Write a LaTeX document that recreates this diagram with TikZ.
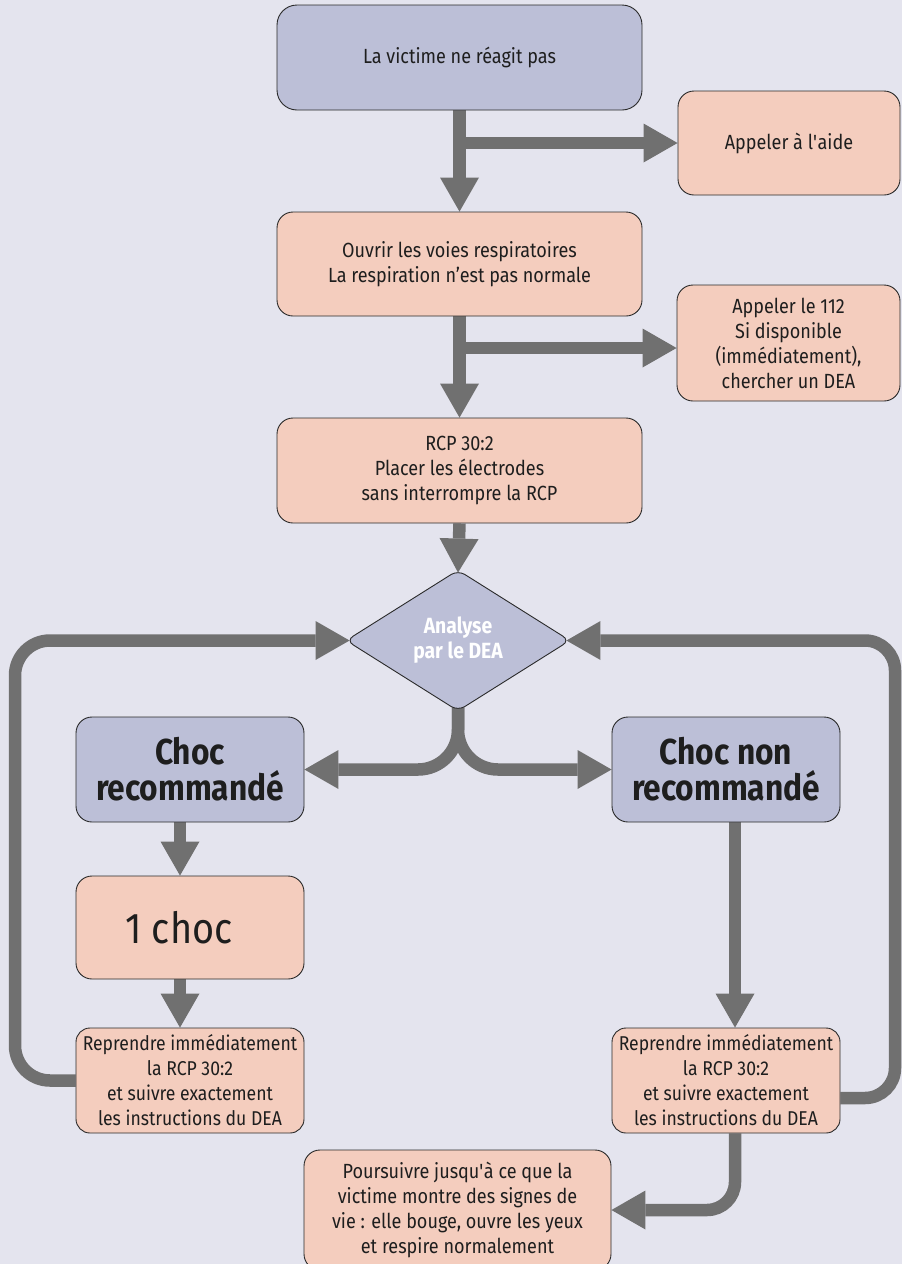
\documentclass[tikz,border=0pt]{standalone}
\usepackage{fontspec}
\setmainfont{Fira Sans}[FakeStretch=0.88]
\usetikzlibrary{arrows.meta,shapes.geometric,backgrounds}
\definecolor{bg}{HTML}{E4E4EE}
\definecolor{bluebox}{HTML}{BCBFD7}
\definecolor{salmon}{HTML}{F4CDBE}
\definecolor{arr}{HTML}{707070}
\definecolor{edge}{HTML}{2A2A2A}
\definecolor{ink}{HTML}{1E1E1E}
\begin{document}
\begin{tikzpicture}[x=1pt,y=-1pt,
  box/.style={draw=edge, line width=0.9pt, rounded corners=16pt, align=center, inner sep=0pt,
    font=\fontsize{20.5}{25}\selectfont, text=ink},
  bluebx/.style={box, fill=bluebox},
  salbx/.style={box, fill=salmon},
  bigbold/.style={font=\bfseries\fontsize{36}{36}\selectfont},
  flow/.style={draw=arr, line width=12.5pt, -{Triangle[width=39pt,length=34pt,line width=0pt]}}
  ]
\useasboundingbox (0,0) rectangle (902,1264);
\clip (0,0) rectangle (902,1264);

\node[bluebx, minimum width=365pt, minimum height=105pt, rounded corners=20pt] (top) at (459.5,57.5) {La victime ne réagit pas};
\node[salbx, minimum width=222pt, minimum height=104pt] (aide) at (789,143) {Appeler à l\textquotesingle aide};
\node[salbx, minimum width=365pt, minimum height=104pt] (b2) at (459.5,264) {Ouvrir les voies respiratoires\\La respiration n’est pas normale};
\node[salbx, minimum width=223pt, minimum height=116pt] (b112) at (788.5,343) {Appeler le 112\\Si disponible\\(immédiatement),\\chercher un DEA};
\node[salbx, minimum width=365pt, minimum height=105pt] (b3) at (459.5,470.5) {RCP 30:2\\Placer les électrodes\\sans interrompre la RCP};
\node[diamond, draw=edge, fill=bluebox, line width=0.9pt, minimum width=224pt, minimum height=141pt,
  inner sep=0pt, rounded corners=8pt, text=white, font=\bfseries\fontsize{22}{25}\selectfont, align=center] (dea) at (458,640.5) {Analyse\\par le DEA};
\node[bluebx, bigbold, minimum width=228pt, minimum height=105pt] (choc) at (190,769.5) {Choc\\recommandé};
\node[bluebx, bigbold, minimum width=228pt, minimum height=105pt] (chocnon) at (726,769.5) {Choc non\\recommandé};
\node[salbx, minimum width=228pt, minimum height=103pt, font=\fontsize{43}{46}\selectfont] (one) at (190,927.5) {1 choc\hspace*{22pt}};
\node[salbx, minimum width=228pt, minimum height=105pt, rounded corners=14pt, font=\fontsize{20}{25}\selectfont] (rep1) at (190,1080.5) {Reprendre immédiatement\\la RCP 30:2\\et suivre exactement\\les instructions du DEA};
\node[salbx, minimum width=228pt, minimum height=105pt, rounded corners=14pt, font=\fontsize{20}{25}\selectfont] (rep2) at (726,1080.5) {Reprendre immédiatement\\la RCP 30:2\\et suivre exactement\\les instructions du DEA};
\node[salbx, minimum width=307pt, minimum height=120pt] (fin) at (457.5,1210) {Poursuivre jusqu\textquotesingle à ce que la\\victime montre des signes de\\vie : elle bouge, ouvre les yeux\\et respire normalement};

\coordinate (s1) at (459.5,143);
\coordinate (s2) at (459.5,348);
\coordinate (lc1) at (15,1080.5);
\coordinate (lc2) at (15,640.5);
\coordinate (rc1) at (895,1098);
\coordinate (rc2) at (895,640.5);
\coordinate (fc) at (735,1210);

\begin{pgfonlayer}{background}
\fill[bg] (0,0) rectangle (902,1264);
\draw[flow] (top.south) -- (b2.north);
\draw[flow] (s1) -- (aide.west);
\draw[flow] (b2.south) -- (b3.north);
\draw[flow] (s2) -- (b112.west |- s2);
\draw[flow] (b3.south) -- ([yshift=-3pt]dea.north);
\draw[flow, rounded corners=40pt] ([yshift=4pt]dea.south) -- (dea.south |- choc.east) -- (choc.east);
\draw[flow, rounded corners=40pt] ([yshift=4pt]dea.south) -- (dea.south |- chocnon.west) -- (chocnon.west);
\draw[flow] ([xshift=-10pt]choc.south) -- ([xshift=-10pt]one.north);
\draw[flow] ([xshift=-10pt]one.south) -- ([xshift=-10pt]rep1.north);
\draw[flow] ([xshift=9pt]chocnon.south) -- ([xshift=9pt]rep2.north);
\draw[flow, rounded corners=35pt] (rep1.west) -- (lc1) -- (lc2) -- ([xshift=4pt]dea.west);
\draw[flow, rounded corners=30pt] ([yshift=-17.5pt]rep2.east) -- (rc1) -- (rc2) -- ([xshift=-4pt]dea.east);
\draw[flow, rounded corners=28pt] ([xshift=9pt]rep2.south) -- (fc) -- (fin.east);
\end{pgfonlayer}
\end{tikzpicture}
\end{document}
